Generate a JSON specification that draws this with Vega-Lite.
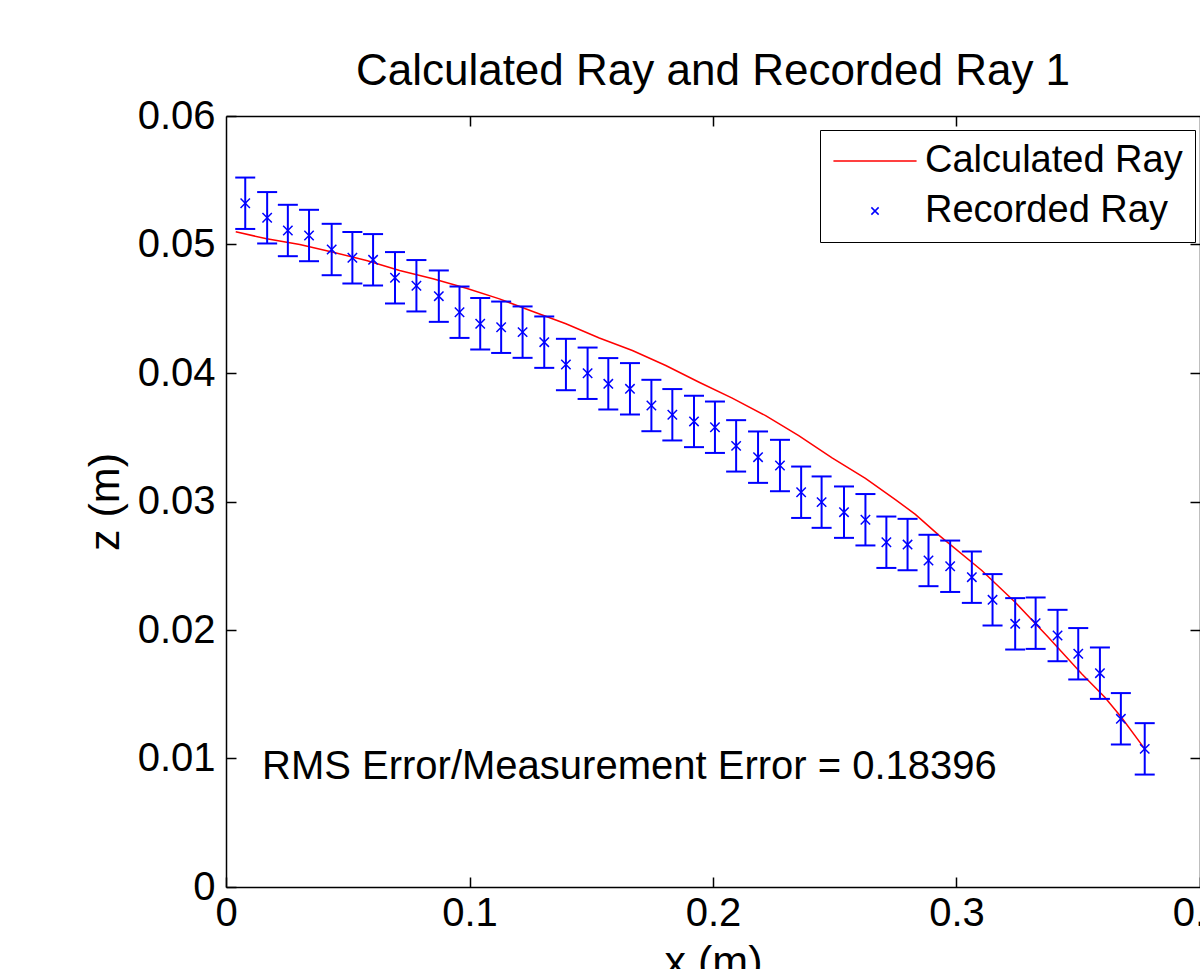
{
  "$schema": "https://vega.github.io/schema/vega-lite/v6.json",
  "width": 974,
  "height": 771,
  "autosize": {"type": "none"},
  "padding": {"left": 226, "top": 116, "right": 0, "bottom": 82},
  "background": "white",
  "config": {
    "font": "Liberation Sans",
    "view": {"stroke": null},
    "axis": {"grid": false, "domainColor": "black", "domainWidth": 1.5, "tickColor": "black", "tickWidth": 1.5, "labelColor": "black", "titleColor": "black", "labelFont": "Liberation Sans", "titleFont": "Liberation Sans", "titleFontWeight": "normal"}
  },
  "title": {"text": "Calculated Ray and Recorded Ray 1", "fontSize": 44, "fontWeight": "normal", "font": "Liberation Sans", "color": "black", "offset": 2, "anchor": "middle"},
  "datasets": {
    "calc": [
      {"x": 0.0040, "z": 0.05100, "series": "Calculated Ray"},
      {"x": 0.0167, "z": 0.05044, "series": "Calculated Ray"},
      {"x": 0.0303, "z": 0.05000, "series": "Calculated Ray"},
      {"x": 0.0440, "z": 0.04940, "series": "Calculated Ray"},
      {"x": 0.0577, "z": 0.04875, "series": "Calculated Ray"},
      {"x": 0.0713, "z": 0.04798, "series": "Calculated Ray"},
      {"x": 0.0850, "z": 0.04733, "series": "Calculated Ray"},
      {"x": 0.0987, "z": 0.04660, "series": "Calculated Ray"},
      {"x": 0.1123, "z": 0.04577, "series": "Calculated Ray"},
      {"x": 0.1260, "z": 0.04479, "series": "Calculated Ray"},
      {"x": 0.1396, "z": 0.04383, "series": "Calculated Ray"},
      {"x": 0.1533, "z": 0.04272, "series": "Calculated Ray"},
      {"x": 0.1669, "z": 0.04175, "series": "Calculated Ray"},
      {"x": 0.1806, "z": 0.04058, "series": "Calculated Ray"},
      {"x": 0.1943, "z": 0.03928, "series": "Calculated Ray"},
      {"x": 0.2079, "z": 0.03805, "series": "Calculated Ray"},
      {"x": 0.2216, "z": 0.03668, "series": "Calculated Ray"},
      {"x": 0.2352, "z": 0.03512, "series": "Calculated Ray"},
      {"x": 0.2489, "z": 0.03340, "series": "Calculated Ray"},
      {"x": 0.2626, "z": 0.03180, "series": "Calculated Ray"},
      {"x": 0.2749, "z": 0.03015, "series": "Calculated Ray"},
      {"x": 0.2831, "z": 0.02900, "series": "Calculated Ray"},
      {"x": 0.2926, "z": 0.02740, "series": "Calculated Ray"},
      {"x": 0.3104, "z": 0.02463, "series": "Calculated Ray"},
      {"x": 0.3241, "z": 0.02216, "series": "Calculated Ray"},
      {"x": 0.3377, "z": 0.01944, "series": "Calculated Ray"},
      {"x": 0.3514, "z": 0.01659, "series": "Calculated Ray"},
      {"x": 0.3609, "z": 0.01477, "series": "Calculated Ray"},
      {"x": 0.3677, "z": 0.01321, "series": "Calculated Ray"},
      {"x": 0.3773, "z": 0.01075, "series": "Calculated Ray"}
    ],
    "rec": [
      {"x": 0.0079, "z": 0.05321, "lo": 0.05121, "hi": 0.05521, "series": "Recorded Ray"},
      {"x": 0.0169, "z": 0.05208, "lo": 0.05008, "hi": 0.05408, "series": "Recorded Ray"},
      {"x": 0.0254, "z": 0.05109, "lo": 0.04909, "hi": 0.05309, "series": "Recorded Ray"},
      {"x": 0.0341, "z": 0.05070, "lo": 0.04870, "hi": 0.05270, "series": "Recorded Ray"},
      {"x": 0.0434, "z": 0.04961, "lo": 0.04761, "hi": 0.05161, "series": "Recorded Ray"},
      {"x": 0.0519, "z": 0.04897, "lo": 0.04697, "hi": 0.05097, "series": "Recorded Ray"},
      {"x": 0.0604, "z": 0.04881, "lo": 0.04681, "hi": 0.05081, "series": "Recorded Ray"},
      {"x": 0.0694, "z": 0.04741, "lo": 0.04541, "hi": 0.04941, "series": "Recorded Ray"},
      {"x": 0.0782, "z": 0.04679, "lo": 0.04479, "hi": 0.04879, "series": "Recorded Ray"},
      {"x": 0.0874, "z": 0.04598, "lo": 0.04398, "hi": 0.04798, "series": "Recorded Ray"},
      {"x": 0.0959, "z": 0.04473, "lo": 0.04273, "hi": 0.04673, "series": "Recorded Ray"},
      {"x": 0.1044, "z": 0.04383, "lo": 0.04183, "hi": 0.04583, "series": "Recorded Ray"},
      {"x": 0.1130, "z": 0.04356, "lo": 0.04156, "hi": 0.04556, "series": "Recorded Ray"},
      {"x": 0.1218, "z": 0.04318, "lo": 0.04118, "hi": 0.04518, "series": "Recorded Ray"},
      {"x": 0.1307, "z": 0.04240, "lo": 0.04040, "hi": 0.04440, "series": "Recorded Ray"},
      {"x": 0.1396, "z": 0.04066, "lo": 0.03866, "hi": 0.04266, "series": "Recorded Ray"},
      {"x": 0.1485, "z": 0.03998, "lo": 0.03798, "hi": 0.04198, "series": "Recorded Ray"},
      {"x": 0.1570, "z": 0.03916, "lo": 0.03716, "hi": 0.04116, "series": "Recorded Ray"},
      {"x": 0.1659, "z": 0.03877, "lo": 0.03677, "hi": 0.04077, "series": "Recorded Ray"},
      {"x": 0.1747, "z": 0.03747, "lo": 0.03547, "hi": 0.03947, "series": "Recorded Ray"},
      {"x": 0.1833, "z": 0.03675, "lo": 0.03475, "hi": 0.03875, "series": "Recorded Ray"},
      {"x": 0.1922, "z": 0.03623, "lo": 0.03423, "hi": 0.03823, "series": "Recorded Ray"},
      {"x": 0.2008, "z": 0.03578, "lo": 0.03378, "hi": 0.03778, "series": "Recorded Ray"},
      {"x": 0.2095, "z": 0.03433, "lo": 0.03233, "hi": 0.03633, "series": "Recorded Ray"},
      {"x": 0.2185, "z": 0.03345, "lo": 0.03145, "hi": 0.03545, "series": "Recorded Ray"},
      {"x": 0.2275, "z": 0.03280, "lo": 0.03080, "hi": 0.03480, "series": "Recorded Ray"},
      {"x": 0.2362, "z": 0.03072, "lo": 0.02872, "hi": 0.03272, "series": "Recorded Ray"},
      {"x": 0.2446, "z": 0.02995, "lo": 0.02795, "hi": 0.03195, "series": "Recorded Ray"},
      {"x": 0.2538, "z": 0.02917, "lo": 0.02717, "hi": 0.03117, "series": "Recorded Ray"},
      {"x": 0.2626, "z": 0.02858, "lo": 0.02658, "hi": 0.03058, "series": "Recorded Ray"},
      {"x": 0.2712, "z": 0.02683, "lo": 0.02483, "hi": 0.02883, "series": "Recorded Ray"},
      {"x": 0.2799, "z": 0.02665, "lo": 0.02465, "hi": 0.02865, "series": "Recorded Ray"},
      {"x": 0.2885, "z": 0.02541, "lo": 0.02341, "hi": 0.02741, "series": "Recorded Ray"},
      {"x": 0.2974, "z": 0.02496, "lo": 0.02296, "hi": 0.02696, "series": "Recorded Ray"},
      {"x": 0.3063, "z": 0.02411, "lo": 0.02211, "hi": 0.02611, "series": "Recorded Ray"},
      {"x": 0.3148, "z": 0.02235, "lo": 0.02035, "hi": 0.02435, "series": "Recorded Ray"},
      {"x": 0.3241, "z": 0.02048, "lo": 0.01848, "hi": 0.02248, "series": "Recorded Ray"},
      {"x": 0.3325, "z": 0.02053, "lo": 0.01853, "hi": 0.02253, "series": "Recorded Ray"},
      {"x": 0.3415, "z": 0.01957, "lo": 0.01757, "hi": 0.02157, "series": "Recorded Ray"},
      {"x": 0.3500, "z": 0.01815, "lo": 0.01615, "hi": 0.02015, "series": "Recorded Ray"},
      {"x": 0.3589, "z": 0.01664, "lo": 0.01464, "hi": 0.01864, "series": "Recorded Ray"},
      {"x": 0.3675, "z": 0.01309, "lo": 0.01109, "hi": 0.01509, "series": "Recorded Ray"},
      {"x": 0.3773, "z": 0.01075, "lo": 0.00875, "hi": 0.01275, "series": "Recorded Ray"}
    ],
    "note": [
      {"x": 0.0148, "z": 0.00934, "label": "RMS Error/Measurement Error = 0.18396"}
    ]
  },
  "resolve": {"axis": {"x": "independent", "y": "independent"}},
  "layer": [
    {
      "data": {"name": "calc"},
      "mark": {"type": "line", "strokeWidth": 1.5},
      "encoding": {
        "x": {"field": "x", "type": "quantitative", "scale": {"domain": [0, 0.4], "nice": false, "zero": false},
              "axis": {"orient": "bottom", "title": "x (m)", "values": [0, 0.1, 0.2, 0.3, 0.4], "format": ".1~f", "labelFontSize": 40, "titleFontSize": 43, "tickSize": -10, "labelPadding": 16, "titlePadding": 8, "labelFlush": false, "labelOverlap": false, "labelBound": false}},
        "y": {"field": "z", "type": "quantitative", "scale": {"domain": [0, 0.06], "nice": false, "zero": false},
              "axis": {"orient": "left", "title": "z (m)", "values": [0, 0.01, 0.02, 0.03, 0.04, 0.05, 0.06], "format": ".2~f", "labelFontSize": 40, "titleFontSize": 43, "tickSize": -10, "labelPadding": 21, "titlePadding": 10, "labelFlush": false, "labelOverlap": false}},
        "color": {"field": "series", "type": "nominal",
                  "scale": {"domain": ["Calculated Ray", "Recorded Ray"], "range": ["#ff0000", "#0000ff"]},
                  "legend": {"orient": "none", "legendX": 594, "legendY": 14, "title": null, "labelFontSize": 38, "labelFont": "Liberation Sans", "labelColor": "black", "strokeColor": "black", "fillColor": "white", "padding": 12, "rowPadding": 12, "symbolSize": 432, "symbolOffset": 24, "labelOffset": 31, "symbolStrokeWidth": 1.5, "labelLimit": 500,
                    "encode": {"symbols": {"update": {
                      "shape": {"signal": "datum.value === 'Calculated Ray' ? 'M-4,0L4,0' : 'M-0.35,-0.35L0.35,0.35M0.35,-0.35L-0.35,0.35'"},
                      "fill": {"value": "transparent"},
                      "stroke": {"signal": "datum.value === 'Calculated Ray' ? '#ff0000' : '#0000ff'"},
                      "strokeWidth": {"value": 1.5},
                      "opacity": {"value": 1}}}}}}
      }
    },
    {
      "data": {"name": "rec"},
      "mark": {"type": "rule", "strokeWidth": 2, "color": "#0000ff"},
      "encoding": {
        "x": {"field": "x", "type": "quantitative", "axis": {"orient": "top", "title": null, "values": [0.1, 0.2, 0.3], "labels": false, "tickSize": -10}},
        "y": {"field": "lo", "type": "quantitative", "axis": {"orient": "right", "title": null, "values": [0.01, 0.02, 0.03, 0.04, 0.05], "labels": false, "tickSize": -10}},
        "y2": {"field": "hi"}
      }
    },
    {
      "data": {"name": "rec"},
      "mark": {"type": "tick", "orient": "horizontal", "size": 20, "thickness": 2, "color": "#0000ff", "opacity": 1},
      "encoding": {
        "x": {"field": "x", "type": "quantitative", "axis": null},
        "y": {"field": "lo", "type": "quantitative", "axis": null}
      }
    },
    {
      "data": {"name": "rec"},
      "mark": {"type": "tick", "orient": "horizontal", "size": 20, "thickness": 2, "color": "#0000ff", "opacity": 1},
      "encoding": {
        "x": {"field": "x", "type": "quantitative", "axis": null},
        "y": {"field": "hi", "type": "quantitative", "axis": null}
      }
    },
    {
      "data": {"name": "rec"},
      "mark": {"type": "point", "shape": "M-1,-1L1,1M1,-1L-1,1", "size": 88, "filled": false, "strokeWidth": 1.5, "opacity": 1},
      "encoding": {
        "x": {"field": "x", "type": "quantitative", "axis": null},
        "y": {"field": "z", "type": "quantitative", "axis": null},
        "color": {"field": "series", "type": "nominal"}
      }
    },
    {
      "data": {"name": "note"},
      "mark": {"type": "text", "align": "left", "baseline": "middle", "fontSize": 40, "font": "Liberation Sans", "color": "black"},
      "encoding": {
        "x": {"field": "x", "type": "quantitative", "axis": null},
        "y": {"field": "z", "type": "quantitative", "axis": null},
        "text": {"field": "label"}
      }
    }
  ]
}
